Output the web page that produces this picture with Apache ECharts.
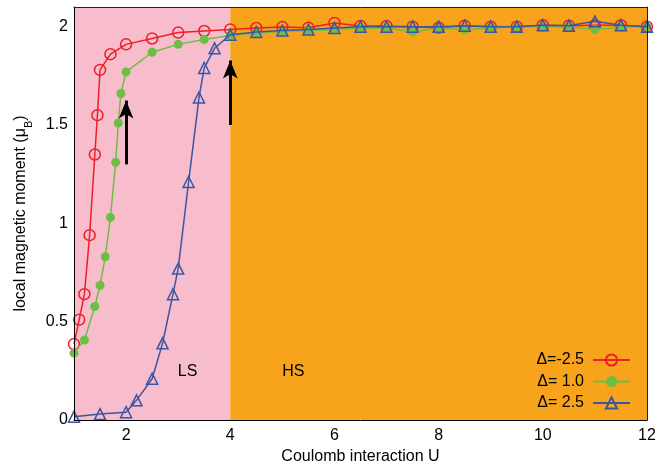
<!DOCTYPE html>
<html>
<head>
<meta charset="utf-8">
<script src="https://cdn.jsdelivr.net/npm/echarts@6/dist/echarts.min.js"></script>
<style>html,body{margin:0;padding:0;background:#fff}#c{width:660px;height:465px}</style>
</head>
<body>
<div id="c"></div>
<script>
// ---- data ----
const uTail = [4.5,5,5.5,6,6.5,7,7.5,8,8.5,9,9.5,10,10.5,11,11.5,12];
const uRed = [1.0,1.1,1.2,1.3,1.4,1.45,1.5,1.7,2.0,2.5,3.0,3.5,4.0].concat(uTail);
const mRed = [0.386,0.51,0.64,0.94,1.35,1.55,1.78,1.86,1.91,1.94,1.97,1.978,1.986,
              1.993,1.998,1.995,2.019,2.003,2.003,2.0,1.995,2.005,2.0,2.0,2.007,2.005,2.007,2.007,2.0];
const uGreen = [1.0,1.2,1.4,1.5,1.6,1.7,1.8,1.85,1.9,2.0,2.5,3.0,3.5,4.0].concat(uTail);
const mGreen = [0.34,0.407,0.577,0.685,0.83,1.03,1.31,1.51,1.66,1.77,1.87,1.91,1.935,1.955,
                1.968,1.976,1.98,1.985,1.993,1.993,1.973,1.993,1.985,1.993,1.998,2.0,2.0,1.985,1.998,2.0];
const uBlue = [1.0,1.5,2.0,2.2,2.5,2.7,2.9,3.0,3.2,3.4,3.5,3.7,4.0].concat(uTail);
const mBlue = [0.017,0.03,0.04,0.10,0.21,0.39,0.64,0.77,1.21,1.64,1.79,1.89,1.959,
               1.973,1.98,1.985,1.993,2.0,2.0,2.0,2.0,2.005,2.0,2.0,2.007,2.005,2.027,2.007,2.0];
const seriesNames = ['Δ=-2.5','Δ= 1.0','Δ= 2.5'];
const xTicks = [2,4,6,8,10,12];
const yTicks = [0,0.5,1,1.5,2];
const regionLS = [1,4];
const regionHS = [4,12];
const arrow1 = [[2.0,1.30],[2.0,1.624]];
const arrow2 = [[4.0,1.50],[4.0,1.828]];
const labelLS = [3.18,0.245];
const labelHS = [5.21,0.246];

const zip = (a,b) => a.map((v,i)=>[v,b[i]]);
const FONT = 'Liberation Sans, Arial, sans-serif';
const RED='#EE1F26', GREEN='#6DBE45', BLUE='#3B55A5', PINK='#F7BDCC', ORANGE='#F7A31C';

const chart = echarts.init(document.getElementById('c'), null, {renderer:'canvas'});
chart.setOption({
  animation:false,
  textStyle:{fontFamily:FONT},
  grid:{left:74,right:13,top:7,bottom:45,show:false,containLabel:false,outerBoundsMode:'none'},
  legend:{
    data:seriesNames, orient:'vertical', align:'right',
    right:29, top:352, padding:0, itemGap:5.5, itemWidth:37, itemHeight:14,
    textStyle:{fontSize:16,color:'#000',fontFamily:FONT,padding:[0,4,0,0]}
  },
  xAxis:[{
    type:'value', min:1, max:12, z:10,
    name:'Coulomb interaction U', nameLocation:'middle', nameGap:25,
    nameTextStyle:{fontSize:16,color:'#000'},
    axisLine:{show:true,lineStyle:{color:'#000',width:1}},
    axisTick:{show:false},
    axisLabel:{customValues:xTicks,fontSize:16,color:'#000',margin:8},
    splitLine:{show:false}
  },{
    type:'value', min:1, max:12, position:'top', z:10,
    axisLine:{show:true,onZero:false,lineStyle:{color:'#2a2010',width:1}},
    axisTick:{show:false}, axisLabel:{show:false}, splitLine:{show:false}
  }],
  yAxis:[{
    type:'value', min:0, max:2.1, z:10,
    name:'local magnetic moment (μ{sub|B})', nameLocation:'middle', nameGap:44,
    nameTextStyle:{fontSize:16,color:'#000',rich:{sub:{fontSize:11,verticalAlign:'bottom',padding:[0,0,-6,0]}}},
    axisLine:{show:true,lineStyle:{color:'#000',width:1}},
    axisTick:{show:false},
    axisLabel:{customValues:yTicks,fontSize:16,color:'#000',margin:6},
    splitLine:{show:false}
  },{
    type:'value', min:0, max:2.1, position:'right', z:10,
    axisLine:{show:true,onZero:false,lineStyle:{color:'#2a2010',width:1}},
    axisTick:{show:false}, axisLabel:{show:false}, splitLine:{show:false}
  }],
  series:[
    {
      type:'line', name:'bg', data:[], z:1, silent:true,
      markArea:{silent:true, data:[
        [{xAxis:regionLS[0], itemStyle:{color:PINK}},{xAxis:regionLS[1]}],
        [{xAxis:regionHS[0], itemStyle:{color:ORANGE}},{xAxis:regionHS[1]}]
      ]}
    },
    {
      type:'line', name:seriesNames[0], data:zip(uRed,mRed), z:3,
      symbol:'circle', symbolSize:11,
      lineStyle:{color:RED,width:1.5},
      itemStyle:{color:'rgba(0,0,0,0)',borderColor:RED,borderWidth:1.5}
    },
    {
      type:'line', name:seriesNames[1], data:zip(uGreen,mGreen), z:4,
      symbol:'circle', symbolSize:9,
      lineStyle:{color:GREEN,width:1.5},
      itemStyle:{color:GREEN,borderWidth:0}
    },
    {
      type:'line', name:seriesNames[2], data:zip(uBlue,mBlue), z:5,
      symbol:'triangle', symbolSize:11,
      lineStyle:{color:BLUE,width:1.5},
      itemStyle:{color:'rgba(0,0,0,0)',borderColor:BLUE,borderWidth:1.5}
    },
    {
      type:'line', name:'annot', data:[], z:6, silent:true,
      markLine:{
        silent:true, symbol:['none','arrow'], symbolSize:[11,18],
        label:{show:false},
        lineStyle:{color:'#000',width:3,type:'solid'},
        data:[
          [{coord:arrow1[0]},{coord:arrow1[1]}],
          [{coord:arrow2[0]},{coord:arrow2[1]}]
        ]
      },
      markPoint:{
        silent:true, symbol:'circle', symbolSize:0,
        label:{show:true,position:'inside',fontSize:16,color:'#000',fontFamily:FONT},
        data:[
          {coord:labelLS, label:{formatter:'LS'}},
          {coord:labelHS, label:{formatter:'HS'}}
        ]
      }
    }
  ]
});
</script>
</body>
</html>
